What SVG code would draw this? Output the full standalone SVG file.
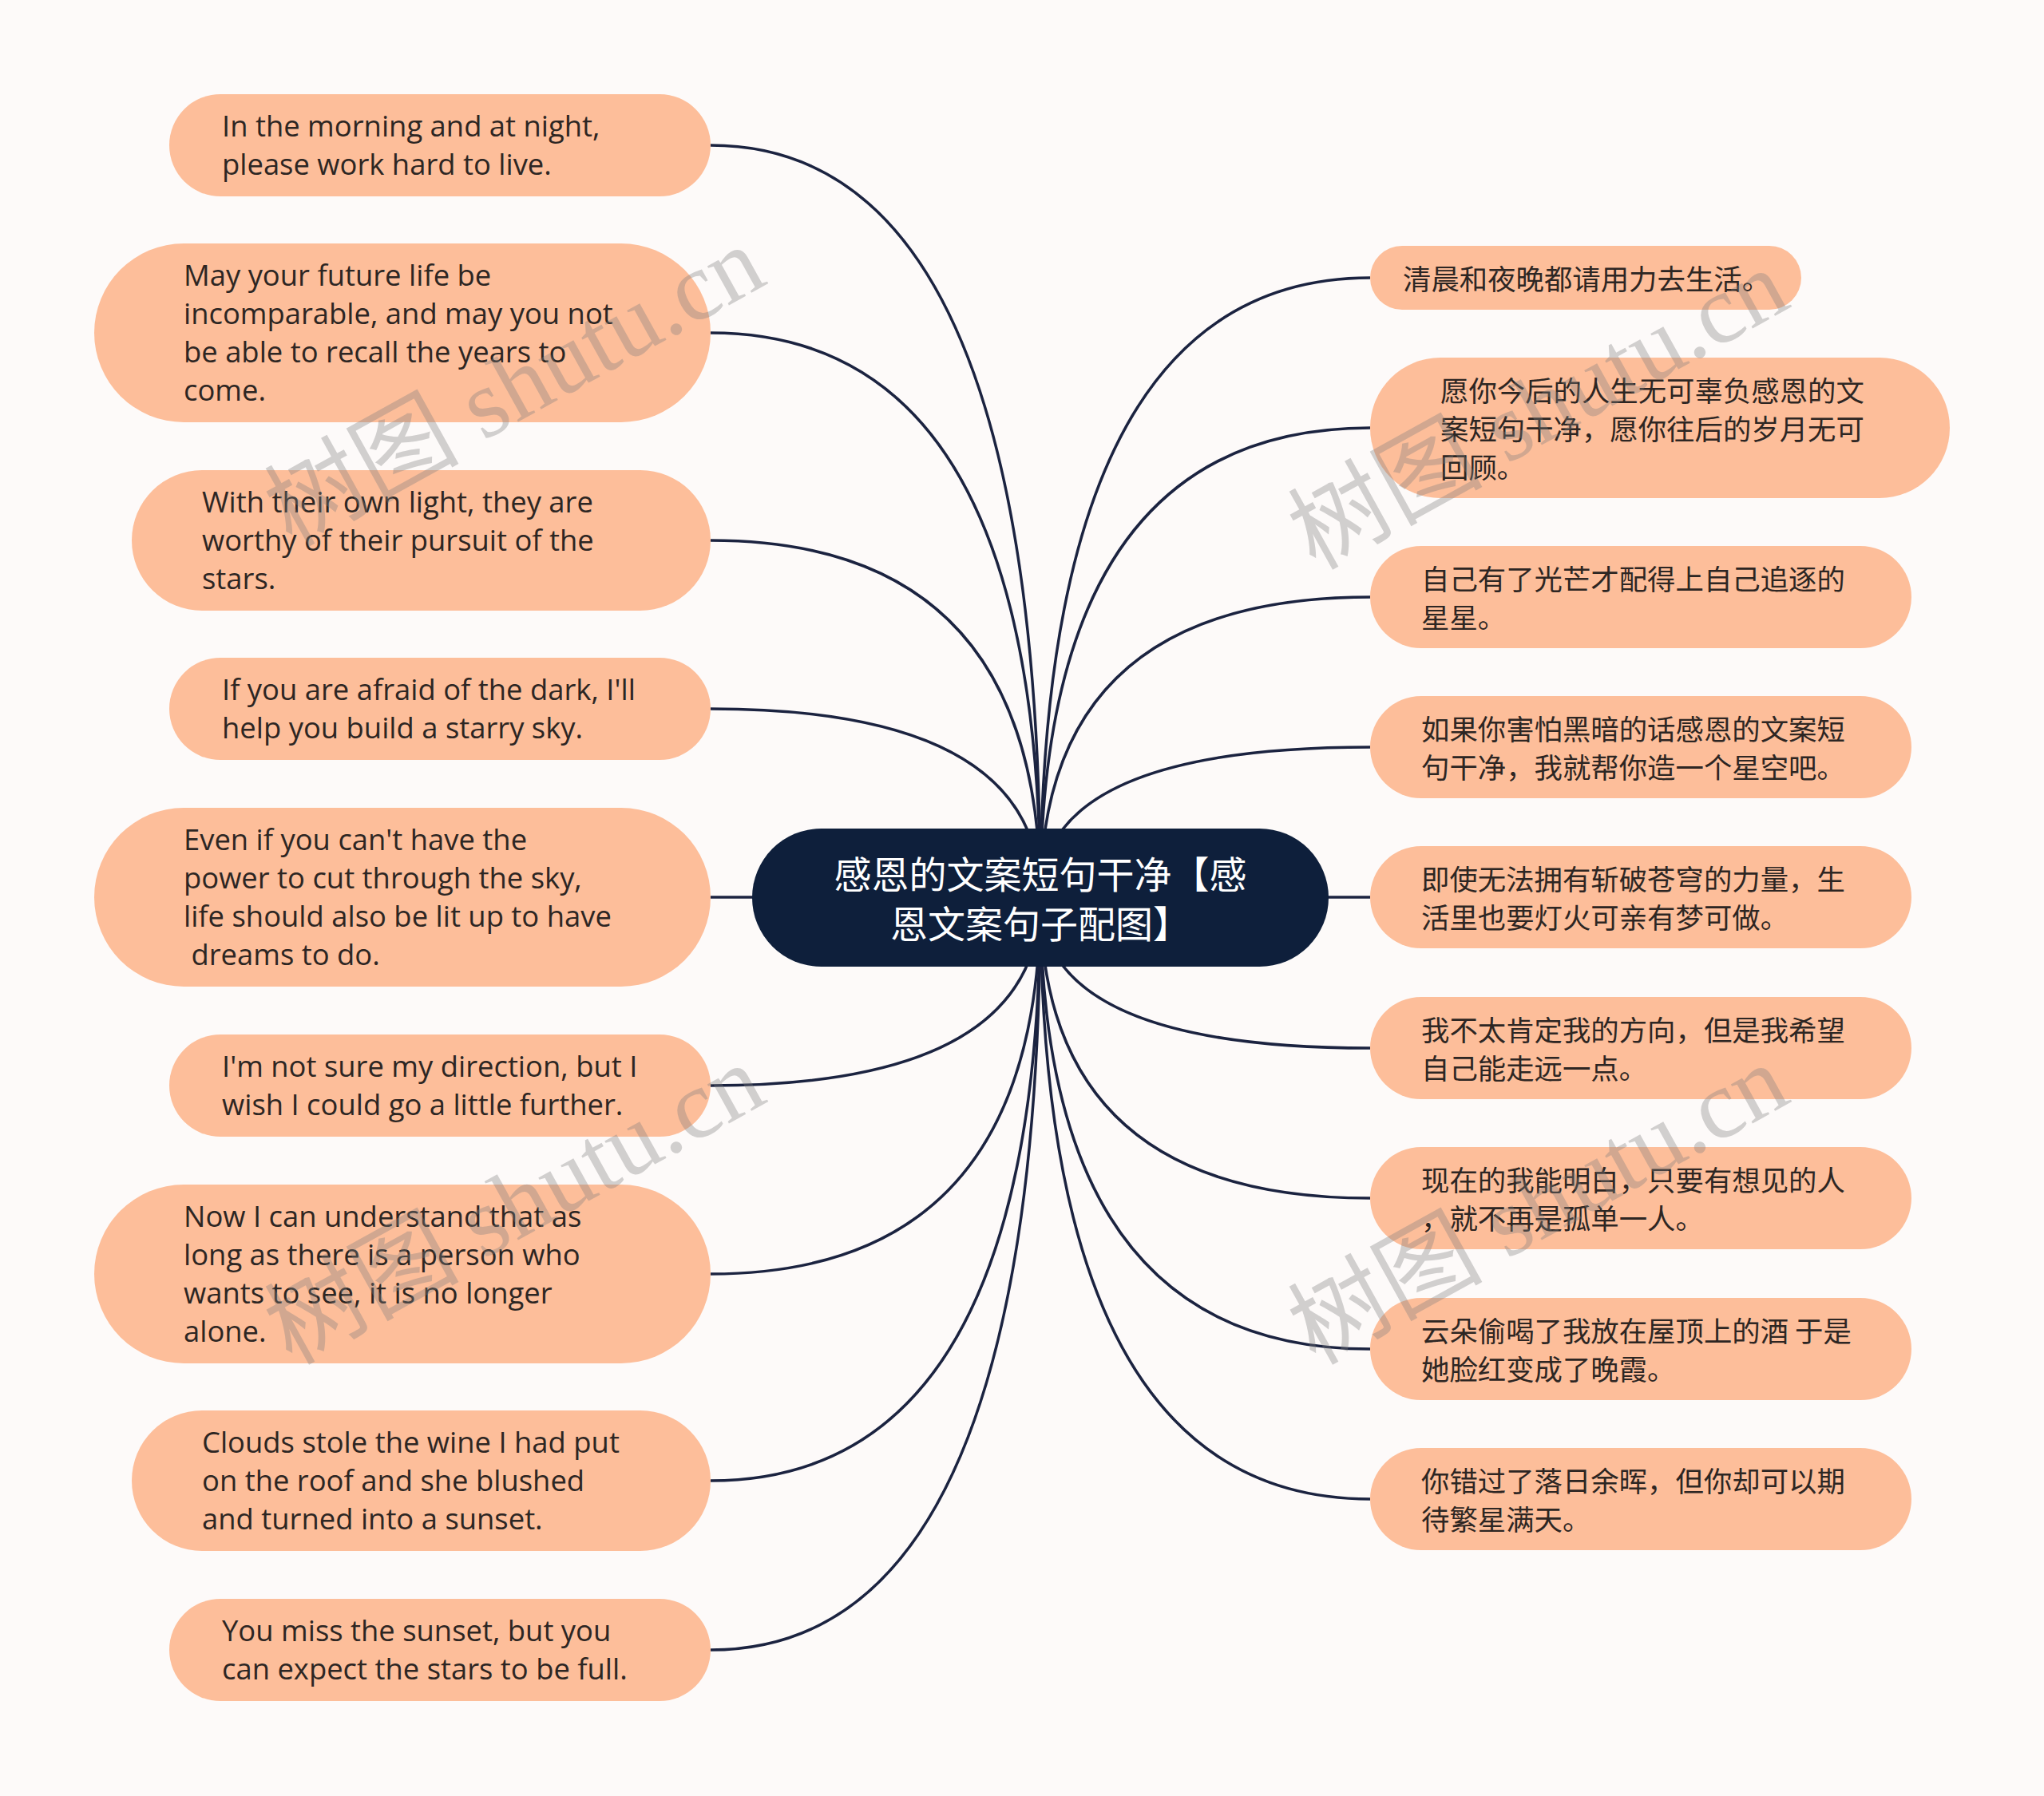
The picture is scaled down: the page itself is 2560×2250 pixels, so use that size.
<svg xmlns="http://www.w3.org/2000/svg" width="2560" height="2250" viewBox="0 0 2560 2250">
<style>
.bg{fill:#fdfaf9}
.node{fill:#fdbe9a}
.root{fill:#0e1f3b}
.en{font-family:"Open Sans","Noto Sans",sans-serif;font-size:36.4px;fill:#2d2623}
.zh{font-family:"Noto Sans CJK SC",sans-serif;font-size:35.4px;fill:#2d2623}
.rt{font-family:"Noto Sans CJK SC",sans-serif;font-size:47px;fill:#ffffff;text-anchor:middle}
.wm{font-family:"Liberation Serif","Noto Sans CJK SC",serif;font-size:122px;fill:#7f7f7f;fill-opacity:0.35;text-anchor:middle}
#connectors path{fill:none;stroke:#1b2340;stroke-width:3.5}
</style>
<rect class="bg" x="0" y="0" width="2560" height="2250"/>
<g id="connectors">
<path d="M1303,1124 Q1303,182 890,182"/>
<path d="M1303,1124 Q1303,417 890,417"/>
<path d="M1303,1124 Q1303,677 890,677"/>
<path d="M1303,1124 Q1303,888 890,888"/>
<path d="M1303,1124 L890,1124"/>
<path d="M1303,1124 Q1303,1360 890,1360"/>
<path d="M1303,1124 Q1303,1596 890,1596"/>
<path d="M1303,1124 Q1303,1855 890,1855"/>
<path d="M1303,1124 Q1303,2067 890,2067"/>
<path d="M1303,1124 Q1303,348 1716,348"/>
<path d="M1303,1124 Q1303,536 1716,536"/>
<path d="M1303,1124 Q1303,748 1716,748"/>
<path d="M1303,1124 Q1303,936 1716,936"/>
<path d="M1303,1124 L1716,1124"/>
<path d="M1303,1124 Q1303,1313 1716,1313"/>
<path d="M1303,1124 Q1303,1501 1716,1501"/>
<path d="M1303,1124 Q1303,1690 1716,1690"/>
<path d="M1303,1124 Q1303,1878 1716,1878"/>
</g>
<g id="root">
<rect class="root" x="942" y="1038" width="722" height="173" rx="86.5"/>
<text class="rt" x="1303" y="1113">感恩的文案短句干净【感</text>
<text class="rt" x="1303" y="1175">恩文案句子配图】</text>
</g>
<g id="L1"><rect class="node" x="212" y="118" width="678" height="128" rx="64"/>
<text class="en"><tspan x="278" y="171">In the morning and at night,</tspan><tspan x="278" y="219">please work hard to live.</tspan></text></g>
<g id="L2"><rect class="node" x="118" y="305" width="772" height="224" rx="112"/>
<text class="en"><tspan x="230" y="358">May your future life be</tspan><tspan x="230" y="406">incomparable, and may you not</tspan><tspan x="230" y="454">be able to recall the years to</tspan><tspan x="230" y="502">come.</tspan></text></g>
<g id="L3"><rect class="node" x="165" y="589" width="725" height="176" rx="88"/>
<text class="en"><tspan x="253" y="642">With their own light, they are</tspan><tspan x="253" y="690">worthy of their pursuit of the</tspan><tspan x="253" y="738">stars.</tspan></text></g>
<g id="L4"><rect class="node" x="212" y="824" width="678" height="128" rx="64"/>
<text class="en"><tspan x="278" y="877">If you are afraid of the dark, I'll</tspan><tspan x="278" y="925">help you build a starry sky.</tspan></text></g>
<g id="L5"><rect class="node" x="118" y="1012" width="772" height="224" rx="112"/>
<text class="en" xml:space="preserve"><tspan x="230" y="1065">Even if you can't have the</tspan><tspan x="230" y="1113">power to cut through the sky,</tspan><tspan x="230" y="1161">life should also be lit up to have</tspan><tspan x="230" y="1209"> dreams to do.</tspan></text></g>
<g id="L6"><rect class="node" x="212" y="1296" width="678" height="128" rx="64"/>
<text class="en"><tspan x="278" y="1349">I'm not sure my direction, but I</tspan><tspan x="278" y="1397">wish I could go a little further.</tspan></text></g>
<g id="L7"><rect class="node" x="118" y="1484" width="772" height="224" rx="112"/>
<text class="en"><tspan x="230" y="1537">Now I can understand that as</tspan><tspan x="230" y="1585">long as there is a person who</tspan><tspan x="230" y="1633">wants to see, it is no longer</tspan><tspan x="230" y="1681">alone.</tspan></text></g>
<g id="L8"><rect class="node" x="165" y="1767" width="725" height="176" rx="88"/>
<text class="en"><tspan x="253" y="1820">Clouds stole the wine I had put</tspan><tspan x="253" y="1868">on the roof and she blushed</tspan><tspan x="253" y="1916">and turned into a sunset.</tspan></text></g>
<g id="L9"><rect class="node" x="212" y="2003" width="678" height="128" rx="64"/>
<text class="en"><tspan x="278" y="2056">You miss the sunset, but you</tspan><tspan x="278" y="2104">can expect the stars to be full.</tspan></text></g>
<g id="R1"><rect class="node" x="1716" y="308" width="540" height="80" rx="40"/>
<text class="zh" x="1757" y="363">清晨和夜晚都请用力去生活。</text></g>
<g id="R2"><rect class="node" x="1716" y="448" width="726" height="176" rx="88"/>
<text class="zh"><tspan x="1804" y="503">愿你今后的人生无可辜负感恩的文</tspan><tspan x="1804" y="551">案短句干净，愿你往后的岁月无可</tspan><tspan x="1804" y="599">回顾。</tspan></text></g>
<g id="R3"><rect class="node" x="1716" y="684" width="678" height="128" rx="64"/>
<text class="zh"><tspan x="1780" y="739">自己有了光芒才配得上自己追逐的</tspan><tspan x="1780" y="787">星星。</tspan></text></g>
<g id="R4"><rect class="node" x="1716" y="872" width="678" height="128" rx="64"/>
<text class="zh"><tspan x="1780" y="927">如果你害怕黑暗的话感恩的文案短</tspan><tspan x="1780" y="975">句干净，我就帮你造一个星空吧。</tspan></text></g>
<g id="R5"><rect class="node" x="1716" y="1060" width="678" height="128" rx="64"/>
<text class="zh"><tspan x="1780" y="1115">即使无法拥有斩破苍穹的力量，生</tspan><tspan x="1780" y="1163">活里也要灯火可亲有梦可做。</tspan></text></g>
<g id="R6"><rect class="node" x="1716" y="1249" width="678" height="128" rx="64"/>
<text class="zh"><tspan x="1780" y="1304">我不太肯定我的方向，但是我希望</tspan><tspan x="1780" y="1352">自己能走远一点。</tspan></text></g>
<g id="R7"><rect class="node" x="1716" y="1437" width="678" height="128" rx="64"/>
<text class="zh"><tspan x="1780" y="1492">现在的我能明白，只要有想见的人</tspan><tspan x="1780" y="1540">，就不再是孤单一人。</tspan></text></g>
<g id="R8"><rect class="node" x="1716" y="1626" width="678" height="128" rx="64"/>
<text class="zh"><tspan x="1780" y="1681">云朵偷喝了我放在屋顶上的酒 于是</tspan><tspan x="1780" y="1729">她脸红变成了晚霞。</tspan></text></g>
<g id="R9"><rect class="node" x="1716" y="1814" width="678" height="128" rx="64"/>
<text class="zh"><tspan x="1780" y="1869">你错过了落日余晖，但你却可以期</tspan><tspan x="1780" y="1917">待繁星满天。</tspan></text></g>
<g id="watermarks">
<text class="wm" x="645" y="525" transform="rotate(-29 645 485)">树图 shutu.cn</text>
<text class="wm" x="645" y="1550" transform="rotate(-29 645 1510)">树图 shutu.cn</text>
<text class="wm" x="1927" y="554" transform="rotate(-29 1927 514)">树图 shutu.cn</text>
<text class="wm" x="1927" y="1550" transform="rotate(-29 1927 1510)">树图 shutu.cn</text>
</g>
</svg>
